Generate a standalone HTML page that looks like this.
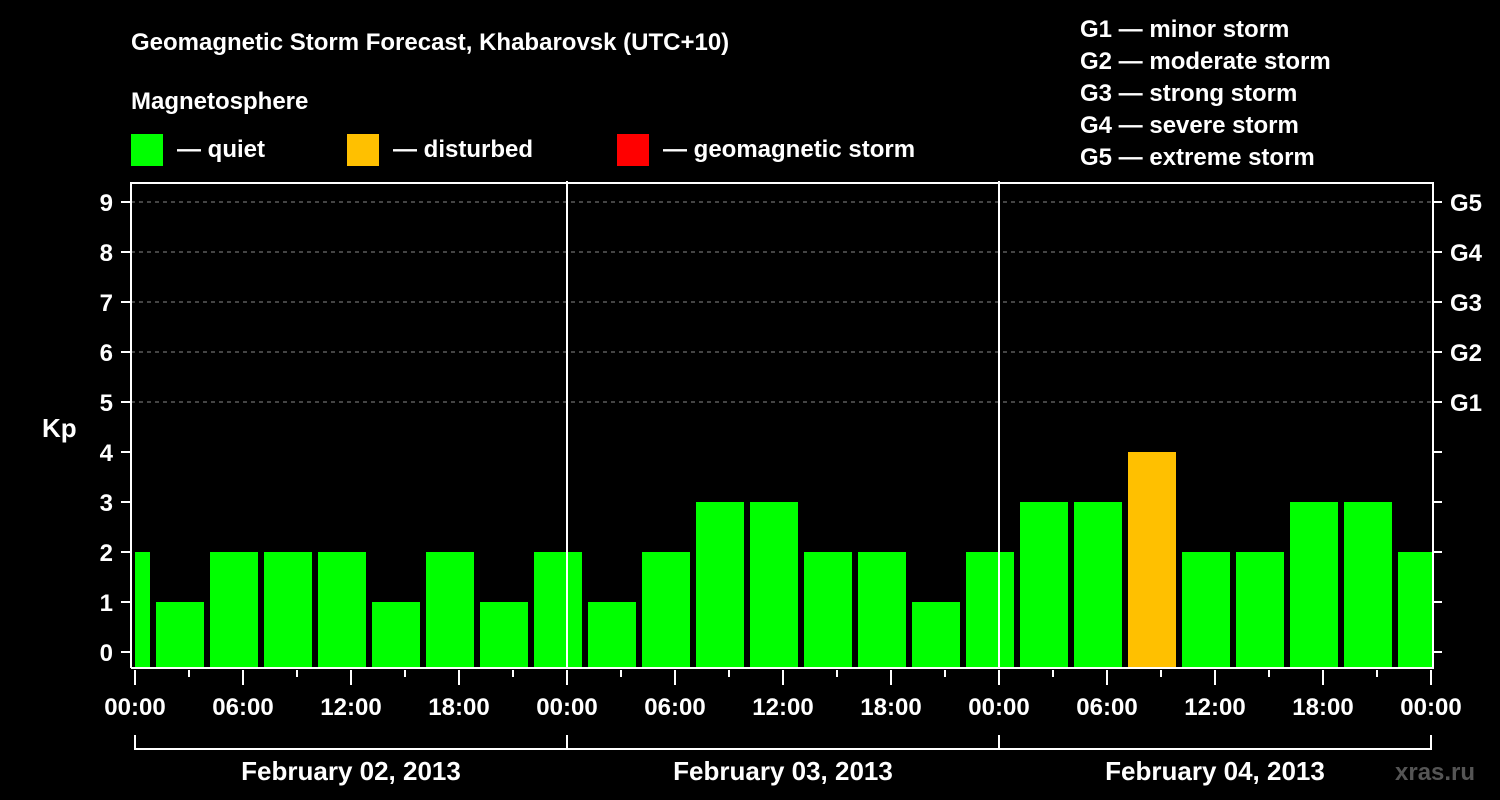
<!DOCTYPE html>
<html><head><meta charset="utf-8"><style>
html,body{margin:0;padding:0;background:#000;}
svg{display:block;font-family:"Liberation Sans",sans-serif;font-weight:bold;}
</style></head><body>
<svg id="chart" width="1500" height="800" viewBox="0 0 1500 800">
<rect width="1500" height="800" fill="#000"/>
<text x="131" y="50" fill="#fff" font-size="24">Geomagnetic Storm Forecast, Khabarovsk (UTC+10)</text>
<text x="131" y="109" fill="#fff" font-size="24">Magnetosphere</text>
<g><rect x="131" y="134" width="32" height="32" fill="#00ff00"/><text x="177" y="157" fill="#fff" font-size="24">— quiet</text></g>
<g><rect x="347" y="134" width="32" height="32" fill="#ffc000"/><text x="393" y="157" fill="#fff" font-size="24">— disturbed</text></g>
<g><rect x="617" y="134" width="32" height="32" fill="#ff0000"/><text x="663" y="157" fill="#fff" font-size="24">— geomagnetic storm</text></g>
<g fill="#fff" font-size="24">
<text x="1080" y="37">G1 — minor storm</text>
<text x="1080" y="69">G2 — moderate storm</text>
<text x="1080" y="101">G3 — strong storm</text>
<text x="1080" y="133">G4 — severe storm</text>
<text x="1080" y="165">G5 — extreme storm</text>
</g>
<text x="42" y="437" fill="#fff" font-size="26">Kp</text>
<text x="1395" y="780" fill="#555" font-size="24">xras.ru</text>
<g id="plot"></g>
</svg>
<script>
const kpValues = [2,1,2,2,2,1,2,1,2,1,2,3,3,2,2,1,2,3,3,4,2,2,3,3,2];
const barStartHour = -0.5;
const yTicks = [0,1,2,3,4,5,6,7,8,9];
const gLabels = ["G1","G2","G3","G4","G5"];
const xTickLabels = ["00:00","06:00","12:00","18:00","00:00","06:00","12:00","18:00","00:00","06:00","12:00","18:00","00:00"];
const dayLabels = ["February 02, 2013","February 03, 2013","February 04, 2013"];

const NS="http://www.w3.org/2000/svg";
const plot=document.getElementById('plot');
const X0=135, PXH=18, L=131, R=1433, T=183, B=668;
const xs=h=>X0+h*PXH;
const ys=v=>652-v*50;
function mk(tag,attrs,parent){const e=document.createElementNS(NS,tag);for(const k in attrs)e.setAttribute(k,attrs[k]);(parent||plot).appendChild(e);return e;}
function color(v){return v>=5?'#ff0000':(v>=4?'#ffc000':'#00ff00');}

// grid
yTicks.filter(v=>v>=5).forEach(v=>{
  const g=mk('line',{x1:L,x2:R,y1:ys(v),y2:ys(v),stroke:'#888','stroke-dasharray':'4,4','stroke-width':1});
  
  
});
// bars
const clip=mk('clipPath',{id:'pc'});mk('rect',{x:L+4,y:T,width:R-L-5,height:B-T},clip);
kpValues.forEach((v,i)=>{
  const c=barStartHour+i*3;
  const x=xs(c)-24, y=ys(v);
  const r=mk('rect',{x:x,y:y,width:48,height:B-y,fill:color(v),'clip-path':'url(#pc)'});
  
  
});
// day separators
[24,48].forEach(h=>{mk('line',{x1:xs(h),x2:xs(h),y1:181,y2:B,stroke:'#fff','stroke-width':2});});
// frame
const fr=mk('path',{d:`M${L} ${B}V${T}H${R}V${B}H${L}`,fill:'none',stroke:'#fff','stroke-width':2});


// y ticks
yTicks.forEach(v=>{
  mk('line',{x1:121,x2:L,y1:ys(v),y2:ys(v),stroke:'#fff','stroke-width':2});
  mk('line',{x1:R,x2:1442,y1:ys(v),y2:ys(v),stroke:'#fff','stroke-width':2});
  const t=mk('text',{x:113,y:ys(v)+9,fill:'#fff','font-size':24,'text-anchor':'end'});t.textContent=v;
  
  
});
gLabels.forEach((g,i)=>{
  const t=mk('text',{x:1450,y:ys(5+i)+9,fill:'#fff','font-size':24});t.textContent=g;
  
  
});
// x ticks
for(let h=0;h<=72;h+=3){
  const major=h%6===0;
  mk('line',{x1:xs(h),x2:xs(h),y1:B+2,y2:B+(major?17:9),stroke:'#fff','stroke-width':2});
}
xTickLabels.forEach((s,i)=>{
  const t=mk('text',{x:xs(i*6),y:715,fill:'#fff','font-size':24,'text-anchor':'middle'});t.textContent=s;
  
  
});
// day brackets
mk('path',{d:`M${xs(0)} 735V749H${xs(72)}V735M${xs(24)} 735V749M${xs(48)} 735V749`,fill:'none',stroke:'#fff','stroke-width':2});
dayLabels.forEach((s,i)=>{
  const t=mk('text',{x:xs(i*24+12),y:780,fill:'#fff','font-size':26,'text-anchor':'middle'});t.textContent=s;
  
  
});
</script>
</body></html>
